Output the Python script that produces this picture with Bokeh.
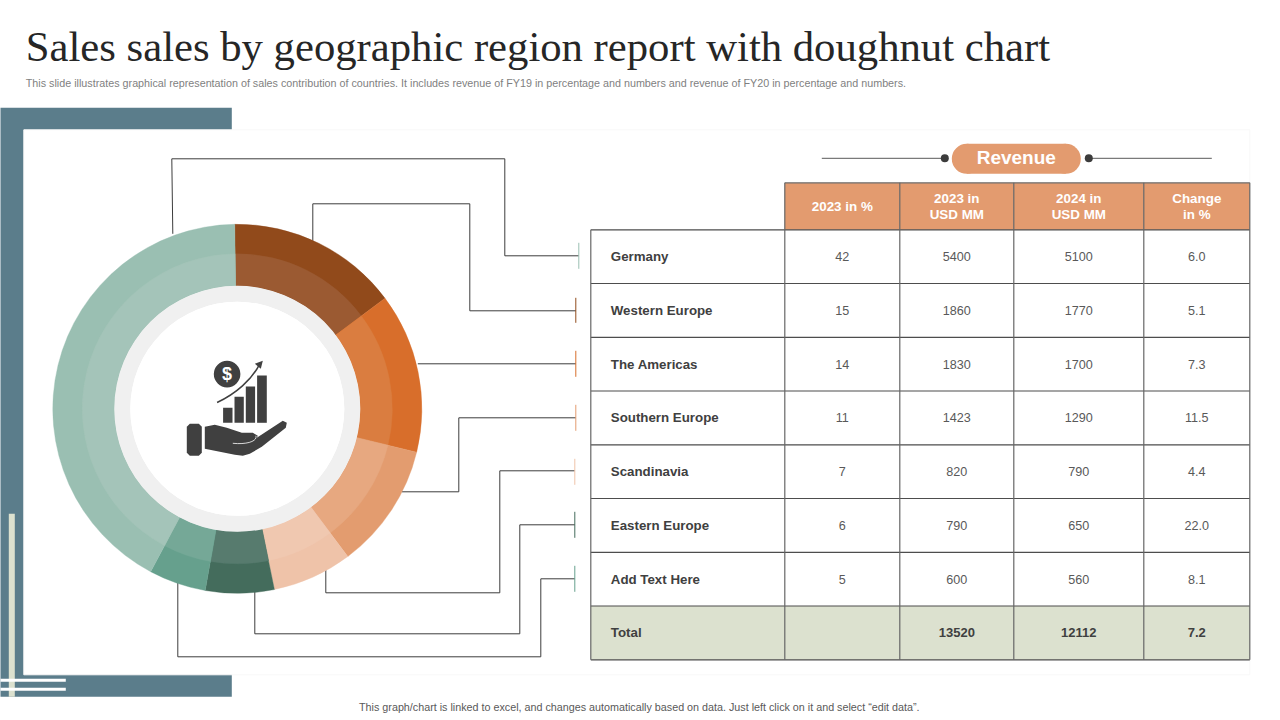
import math
from bokeh.plotting import figure
from bokeh.models import Range1d
from bokeh.core.properties import value
from bokeh.embed import file_html
from bokeh.resources import INLINE

TITLE = "Sales sales by geographic region report with doughnut chart"
SUBTITLE = ("This slide illustrates graphical representation of sales contribution of countries. It includes revenue of FY19 in "
            "percentage and numbers and revenue of FY20 in percentage and numbers.")
FOOTER = "This graph/chart is linked to excel, and changes automatically based on data. Just left click on it and select \u201cedit data\u201d."

regions = ["Germany", "Western Europe", "The Americas", "Southern Europe", "Scandinavia", "Eastern Europe", "Add Text Here"]
share_2023 = [42, 15, 14, 11, 7, 6, 5]
usd_2023 = [5400, 1860, 1830, 1423, 820, 790, 600]
usd_2024 = [5100, 1770, 1700, 1290, 790, 650, 560]
change_pct = [6.0, 5.1, 7.3, 11.5, 4.4, 22.0, 8.1]
total_label = "Total"
total_usd_2023 = 13520
total_usd_2024 = 12112
total_change = 7.2
headers = [["2023 in %"], ["2023 in", "USD MM"], ["2024 in", "USD MM"], ["Change", "in %"]]

outer_colors = ["#9ABFB2", "#914A1B", "#D86E2B", "#E39C6F", "#EFC3A9", "#446C5C", "#66A08D"]
inner_colors = ["#A4C4B9", "#9B5A32", "#DA7D40", "#E7A880", "#F0C8B0", "#577B6E", "#75A897"]

BLUE, CREAM, PEACH = "#5B7D8B", "#DCE1CF", "#E39B6F"
DARK, INK = "#404040", "#262626"

p = figure(width=1280, height=720, x_range=Range1d(0.7, 1280.7), y_range=Range1d(720.7, 0.7),
           x_axis_type=None, y_axis_type=None, toolbar_location=None, output_backend="svg",
           min_border=0, outline_line_color=None, background_fill_color="white", border_fill_color="white")


def label(x, y, s, size, color=DARK, align="left", bold=False, font="Liberation Sans"):
    p.text(x=[x], y=[y], text=[s], text_font=value(font), text_font_size=value(f"{size}px"), text_color=color,
           text_align=align, text_baseline="middle", text_font_style="bold" if bold else "normal")


# decorative frame
p.quad(left=[-2], right=[232], top=[108], bottom=[697], fill_color=BLUE, line_color=None)
p.quad(left=[24], right=[1250], top=[130], bottom=[675], fill_color="white", line_color="#F8F8F8", line_width=1)
p.quad(left=[9], right=[15], top=[514], bottom=[697], fill_color=CREAM, line_color=None)
p.quad(left=[-2, -2], right=[66, 66], top=[679, 688], bottom=[682, 691], fill_color="white", line_color=None)

label(26, 47, TITLE, 42.7, INK, font="Liberation Serif")
label(26, 83, SUBTITLE, 10.76, "#7F7F7F")
label(639.5, 707, FOOTER, 10.75, "#595959", align="center")

# leader lines
CX, CY = 237.5, 409
leaders = [
    ([173, 172, 505, 505, 579], [234, 159, 159, 256, 256], 579, 243, 269),
    ([313, 313, 470, 470, 576], [241, 204, 204, 311, 311], 576, 298, 323),
    ([418, 576], [364, 364], 576, 351, 377),
    ([402, 459, 459, 576], [492, 492, 418, 418], 576, 405, 431),
    ([326, 326, 500, 500, 575], [570, 593, 593, 471, 471], 575, 459, 485),
    ([255, 255, 520, 520, 575], [590, 634, 634, 525, 525], 575, 512, 538),
    ([178, 178, 541, 541, 575], [579, 657, 657, 579, 579], 575, 566, 592),
]
for (xs, ys, tx, t0, t1), c in zip(leaders, outer_colors):
    p.line(x=xs, y=ys, line_color="#3C3C3C", line_width=1)
    p.line(x=[tx, tx], y=[t0, t1], line_color=c, line_width=1)

# doughnut: slices run clockwise from just left of 12 o'clock, the first region comes last
order = list(range(1, len(regions))) + [0]
start = math.radians(-0.8)
R_OUT, R_MID, R_IN, R_HOLE = 184.5, 155, 123, 107
for i in order:
    end = start + share_2023[i] / sum(share_2023) * 2 * math.pi
    a0, a1 = math.pi / 2 - start, math.pi / 2 - end
    p.annular_wedge(x=[CX], y=[CY], inner_radius=R_IN, outer_radius=R_OUT, start_angle=a1, end_angle=a0,
                    fill_color=outer_colors[i], line_color=outer_colors[i], line_width=0.4)
    p.annular_wedge(x=[CX], y=[CY], inner_radius=R_IN, outer_radius=R_MID, start_angle=a1, end_angle=a0,
                    fill_color=inner_colors[i], line_color=inner_colors[i], line_width=0.4)
    start = end
p.annulus(x=[CX], y=[CY], inner_radius=R_HOLE, outer_radius=R_IN, fill_color="#F0F0F0", line_color=None)
p.circle(x=[CX], y=[CY], radius=R_HOLE, fill_color="white", line_color=None)

# centre icon
p.quad(left=[223.3, 234.7, 246, 257.3], right=[232.7, 244, 255.3, 267], top=[408, 397, 386.7, 375.7],
       bottom=[423] * 4, fill_color=DARK, line_color=None)
p.circle(x=[227.3], y=[374.3], radius=13.3, fill_color=DARK, line_color=None)
label(227.3, 374.5, "$", 18, "white", align="center", bold=True)
p.bezier(x0=[217.3], y0=[402.7], x1=[260], y1=[364], cx0=[236], cy0=[394], cx1=[252], cy1=[380], line_color=DARK, line_width=1.5)
p.patch(x=[255, 263, 261], y=[364, 361, 369], fill_color=DARK, line_color=None)
p.patch(x=[187, 190, 199, 202, 202, 199, 190, 187], y=[427, 424, 424, 427, 453, 456, 456, 453], fill_color=DARK, line_color=None)
p.patch(x=[205, 215, 227, 242, 253, 258, 257, 283, 287, 286, 262, 250, 243, 235, 205],
        y=[427, 425, 428, 433, 433, 436, 438, 421, 423, 428, 447, 454, 456, 455, 449], fill_color=DARK, line_color=None)
p.bezier(x0=[233], y0=[443.5], x1=[256], y1=[436], cx0=[248], cy0=[445], cx1=[258], cy1=[441], line_color="white", line_width=0.8)

# revenue pill
p.line(x=[822, 945], y=[158.5, 158.5], line_color="#595959", line_width=1)
p.line(x=[1089, 1212], y=[158.5, 158.5], line_color="#595959", line_width=1)
p.circle(x=[945, 1089], y=[158.5, 158.5], radius=4, fill_color="#3C3C3C", line_color=None)
p.quad(left=[967], right=[1066], top=[144], bottom=[174], fill_color=PEACH, line_color=None)
p.circle(x=[967, 1066], y=[159, 159], radius=15, fill_color=PEACH, line_color=None)
label(1016.5, 158, "Revenue", 19, "white", align="center", bold=True)

# table
col_x = [591, 785, 900, 1014, 1144, 1250]
row_y = [230, 283.7, 337.5, 391.2, 445, 498.7, 552.5, 606.2, 660]
head_top = 183
p.quad(left=col_x[1:-1], right=col_x[2:], top=[head_top] * 4, bottom=[row_y[0]] * 4, fill_color=PEACH, line_color=None)
p.quad(left=[col_x[0]], right=[col_x[-1]], top=[row_y[-2]], bottom=[row_y[-1]], fill_color=CREAM, line_color=None)
for y in row_y:
    p.line(x=[col_x[0], col_x[-1]], y=[y, y], line_color="#4D4D4D", line_width=1.2)
p.line(x=[col_x[1], col_x[-1]], y=[head_top, head_top], line_color="#6E6E6E", line_width=1.2)
p.line(x=[col_x[0], col_x[0]], y=[row_y[0], row_y[-1]], line_color="#666666", line_width=1.2)
for x in col_x[1:]:
    p.line(x=[x, x], y=[head_top, row_y[-1]], line_color="#666666", line_width=1.2)

centers = [(a + b) / 2 for a, b in zip(col_x[1:-1], col_x[2:])]
for cx, lines in zip(centers, headers):
    for k, s in enumerate(lines):
        yy = 207 if len(lines) == 1 else 199 + 16 * k
        label(cx, yy, s, 13.4, "white", align="center", bold=True)
for r, name in enumerate(regions):
    ym = (row_y[r] + row_y[r + 1]) / 2
    label(611, ym, name, 13.3, bold=True)
    cells = [share_2023[r], usd_2023[r], usd_2024[r], f"{change_pct[r]:.1f}"]
    for cx, c in zip(centers, cells):
        label(cx, ym, str(c), 12.6, "#595959", align="center")
ym = (row_y[-2] + row_y[-1]) / 2
label(611, ym, total_label, 13.3, bold=True)
for cx, c in zip(centers[1:], [total_usd_2023, total_usd_2024, f"{total_change:.1f}"]):
    label(cx, ym, str(c), 13, align="center", bold=True)

open("out.html", "w", encoding="utf-8").write(file_html(p, INLINE))
